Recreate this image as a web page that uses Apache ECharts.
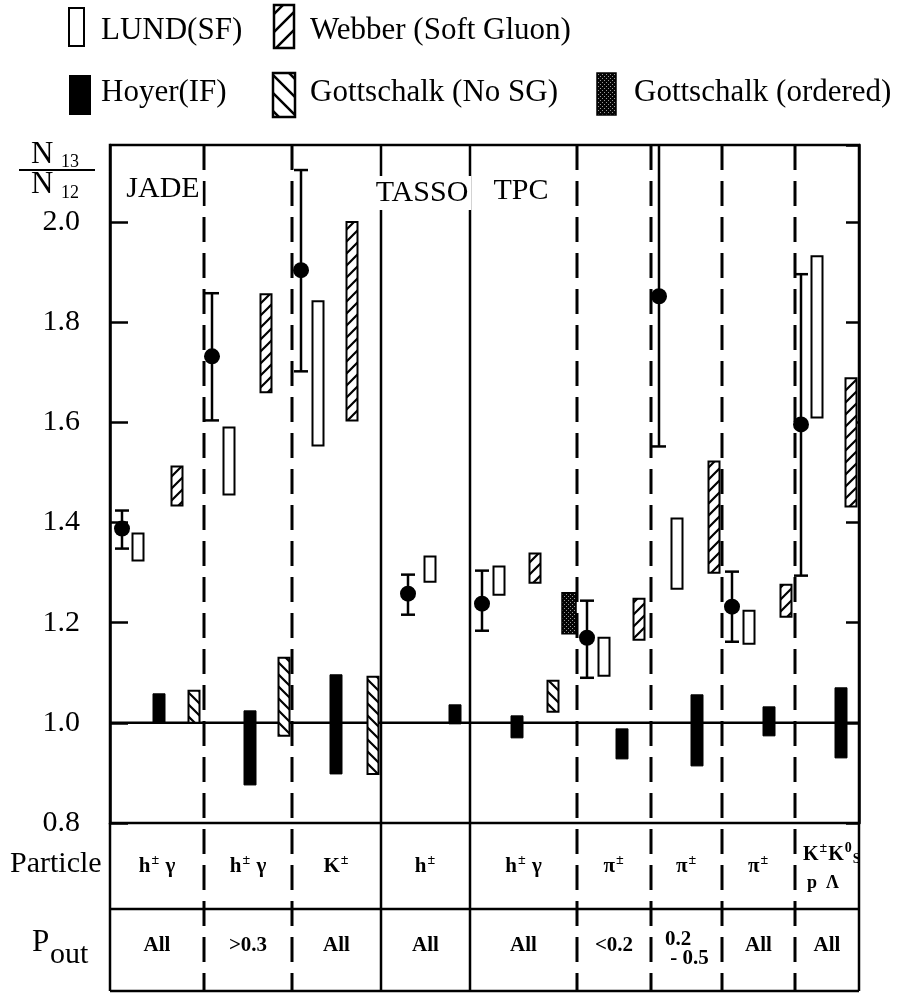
<!DOCTYPE html>
<html>
<head>
<meta charset="utf-8">
<script src="https://cdn.jsdelivr.net/npm/echarts@6/dist/echarts.min.js"></script>
<style>
html,body{margin:0;padding:0;background:#fff;}
#chart{width:903px;height:994px;}
</style>
</head>
<body>
<div id="chart"></div>
<script>
// ===== Data =====
const groups = ['JADE', 'JADE', 'JADE', 'TASSO', 'TPC', 'TPC', 'TPC', 'TPC', 'TPC'];
const particleLabels = ['h^± γ', 'h^± γ', 'K^±', 'h^±', 'h^± γ', 'π^±', 'π^±', 'π^±', 'K^±K^0_S|p  Λ'];
const poutLabels = ['All', '>0.3', 'All', 'All', 'All', '<0.2', '0.2| - 0.5', 'All', 'All'];
const yTickLabels = [0.8, 1.0, 1.2, 1.4, 1.6, 1.8, 2.0];

// measured N13/N12: value, lower, upper
const exptValue = [1.388, 1.732, 1.904, 1.258, 1.238, 1.170, 1.852, 1.232, 1.596];
const exptLow   = [1.348, 1.604, 1.702, 1.216, 1.184, 1.090, 1.552, 1.162, 1.294];
const exptHigh  = [1.424, 1.858, 2.104, 1.296, 1.304, 1.244, 2.170, 1.302, 1.896];
// model predictions [low, high]; null = none
const lund        = [[1.324,1.378],[1.456,1.590],[1.554,1.842],[1.282,1.332],[1.256,1.312],[1.094,1.170],[1.268,1.408],[1.158,1.224],[1.610,1.932]];
const webber      = [[1.434,1.512],[1.660,1.856],[1.604,2.000],null,[1.280,1.338],[1.166,1.248],[1.300,1.522],[1.212,1.276],[1.432,1.688]];
const hoyer       = [[1.000,1.058],[0.876,1.024],[0.898,1.096],[0.998,1.036],[0.970,1.014],[0.928,0.988],[0.914,1.056],[0.974,1.032],[0.930,1.070]];
const gottNoSG    = [[1.000,1.064],[0.974,1.130],[0.898,1.092],null,[1.022,1.084],null,null,null,null];
const gottOrdered = [null,null,null,null,[1.178,1.260],null,null,null,null];

// ===== Layout (horizontal slot positions in x-axis units) =====
const X_MAX = 749, Y_MIN = 0.8, Y_MAX = 2.154;
const groupEdges = [0, 94, 182, 271, 360, 467, 541, 612, 685, 749];
const solidEdges = [3, 4];
const slot = {
  expt:        [12, 102, 191, 298, 372, 477, 549, 622, 691],
  lund:        [28, 119, 208, 320, 389, 494, 567, 639, 707],
  webber:      [67, 156, 242, null, 425, 529, 604, 676, 741],
  hoyer:       [49, 140, 226, 345, 407, 512, 587, 659, 731],
  gottNoSG:    [84, 174, 263, null, 443, null, null, null, null],
  gottOrdered: [null, null, null, null, 459, null, null, null, null]
};

const SERIF = 'Liberation Serif';

function hatch(dir, s, lw) {
  const c = document.createElement('canvas');
  c.width = s; c.height = s;
  const g = c.getContext('2d');
  g.fillStyle = '#fff'; g.fillRect(0, 0, s, s);
  g.strokeStyle = '#000'; g.lineWidth = lw; g.lineCap = 'square';
  g.beginPath();
  for (let k = -1; k <= 1; k++) {
    if (dir > 0) { g.moveTo(k * s - 2, s + 2); g.lineTo(k * s + s + 2, -2); }
    else { g.moveTo(k * s - 2, -2); g.lineTo(k * s + s + 2, s + 2); }
  }
  g.stroke();
  return { image: c, repeat: 'repeat' };
}
function dotted() {
  const c = document.createElement('canvas');
  c.width = 4; c.height = 4;
  const g = c.getContext('2d');
  g.fillStyle = '#050505'; g.fillRect(0, 0, 4, 4);
  g.fillStyle = '#9a9a9a';
  g.fillRect(0, 0, 1, 1); g.fillRect(2, 2, 1, 1);
  return { image: c, repeat: 'repeat' };
}
const patWebber = hatch(1, 12, 2.2);
const patNoSG = hatch(-1, 12, 2.2);
const patOrd = dotted();

const styles = {
  lund:   { fill: '#fff', stroke: '#000', lineWidth: 2 },
  webber: { fill: patWebber, stroke: '#000', lineWidth: 2 },
  hoyer:  { fill: '#000', stroke: '#000', lineWidth: 1 },
  gottNoSG: { fill: patNoSG, stroke: '#000', lineWidth: 2 },
  gottOrdered: { fill: patOrd, stroke: '#000', lineWidth: 1.5 }
};
const widths = { lund: 11, webber: 11, hoyer: 12, gottNoSG: 11, gottOrdered: 14 };

function boxSeries(name, key, ranges) {
  const data = [];
  ranges.forEach((r, i) => { if (r && slot[key][i] != null) data.push([slot[key][i], r[0], r[1]]); });
  const w = widths[key];
  return {
    type: 'custom', name, data, clip: true, z: 3,
    encode: { x: 0, y: [1, 2] },
    renderItem(params, api) {
      const x = api.value(0);
      const pHi = api.coord([x, api.value(2)]);
      const pLo = api.coord([x, api.value(1)]);
      return { type: 'rect', shape: { x: pHi[0] - w / 2, y: pHi[1], width: w, height: pLo[1] - pHi[1] }, style: styles[key] };
    }
  };
}

const exptData = exptValue.map((v, i) => [slot.expt[i], v, exptLow[i], exptHigh[i]]);
const exptSeries = {
  type: 'custom', name: 'Data', data: exptData, clip: true, z: 4,
  encode: { x: 0, y: [1, 2, 3] },
  renderItem(params, api) {
    const x = api.value(0);
    const pv = api.coord([x, api.value(1)]);
    const pl = api.coord([x, api.value(2)]);
    const ph = api.coord([x, api.value(3)]);
    const cw = 7, ls = { stroke: '#000', lineWidth: 2.5 };
    return { type: 'group', children: [
      { type: 'line', shape: { x1: pv[0], y1: ph[1], x2: pv[0], y2: pl[1] }, style: ls },
      { type: 'line', shape: { x1: pv[0] - cw, y1: ph[1], x2: pv[0] + cw, y2: ph[1] }, style: ls },
      { type: 'line', shape: { x1: pv[0] - cw, y1: pl[1], x2: pv[0] + cw, y2: pl[1] }, style: ls },
      { type: 'circle', shape: { cx: pv[0], cy: pv[1], r: 8 }, style: { fill: '#000' } }
    ]};
  }
};

function richStyles(size) {
  return {
    b: { fontFamily: SERIF, fontWeight: 'bold', fontSize: size, lineHeight: 30, fill: '#000' },
    sup: { fontFamily: SERIF, fontWeight: 'bold', fontSize: 14, fill: '#000', padding: [0, 1, 14, 1] },
    sub: { fontFamily: SERIF, fontWeight: 'bold', fontSize: 14, fill: '#000', padding: [8, 0, 0, 0] }
  };
}
function toRich(s) {
  let out = '', buf = '';
  for (let i = 0; i < s.length; i++) {
    const ch = s[i];
    if (ch === '^' || ch === '_') {
      if (buf) { out += '{b|' + buf + '}'; buf = ''; }
      out += '{' + (ch === '^' ? 'sup' : 'sub') + '|' + s[i + 1] + '}';
      i++;
    } else buf += ch;
  }
  if (buf) out += '{b|' + buf + '}';
  return out;
}

const frameSeries = {
  type: 'custom', name: 'frame', clip: false, silent: true, z: 1,
  data: [[0, 1.0]],
  encode: { x: 0, y: 1 },
  renderItem(params, api) {
    const top = api.coord([0, Y_MAX])[1];
    const base = api.coord([0, Y_MIN])[1];
    const rowMid = base + 86, tableBottom = base + 168;
    const xL = api.coord([0, 1])[0], xR = api.coord([X_MAX, 1])[0];
    const ch = [];
    const ln = (x1, y1, x2, y2, w, dash) => ({ type: 'line', shape: { x1, y1, x2, y2 }, style: { stroke: '#000', lineWidth: w, lineDash: dash || null } });
    const y1 = api.coord([0, 1.0])[1];
    ch.push(ln(xL, y1, xR, y1, 2.5));
    for (let k = 1; k < groupEdges.length - 1; k++) {
      const x = api.coord([groupEdges[k], 1])[0];
      const solid = solidEdges.includes(k);
      ch.push(ln(x, top, x, tableBottom, solid ? 2.5 : 3, solid ? null : [25, 11]));
    }
    ch.push(ln(xL, rowMid, xR, rowMid, 2.5));
    ch.push(ln(xL, tableBottom, xR, tableBottom, 2.5));
    ch.push(ln(xL, base, xL, tableBottom, 2.5));
    ch.push(ln(xR, base, xR, tableBottom, 2.5));
    for (let i = 0; i < groups.length; i++) {
      const a = api.coord([groupEdges[i], 1])[0], b = api.coord([groupEdges[i + 1], 1])[0];
      const cx = (a + b) / 2;
      const pl = particleLabels[i].split('|');
      if (pl.length === 1) {
        ch.push({ type: 'text', style: { x: cx, y: base + 44, text: toRich(pl[0]), rich: richStyles(21), align: 'center', verticalAlign: 'middle' } });
      } else {
        ch.push({ type: 'text', style: { x: a + 8, y: base + 32, text: toRich(pl[0]), rich: richStyles(20), align: 'left', verticalAlign: 'middle' } });
        ch.push({ type: 'text', style: { x: a + 12, y: base + 60, text: pl[1], font: 'bold 18px ' + SERIF, fill: '#000', align: 'left', verticalAlign: 'middle' } });
      }
      const po = poutLabels[i].split('|');
      if (po.length === 1) {
        ch.push({ type: 'text', style: { x: cx, y: rowMid + 37, text: po[0], font: 'bold 21px ' + SERIF, fill: '#000', align: 'center', verticalAlign: 'middle' } });
      } else {
        ch.push({ type: 'text', style: { x: a + 14, y: rowMid + 31, text: po[0], font: 'bold 21px ' + SERIF, fill: '#000', align: 'left', verticalAlign: 'middle' } });
        ch.push({ type: 'text', style: { x: a + 14, y: rowMid + 50, text: po[1], font: 'bold 21px ' + SERIF, fill: '#000', align: 'left', verticalAlign: 'middle' } });
      }
    }
    return { type: 'group', children: ch };
  }
};

function gtext(x, y, text, size, extra) {
  return Object.assign({ type: 'text', z: 100, style: { x, y, text, font: size + 'px ' + SERIF, fill: '#000', align: 'left', verticalAlign: 'middle' } }, extra || {});
}
function grect(x, y, w, h, style) {
  return { type: 'rect', z: 100, shape: { x, y, width: w, height: h }, style };
}
function labelBox(x, y, text) {
  return { type: 'text', z: 100, style: { x, y, text, font: '30px ' + SERIF, fill: '#000', align: 'center', verticalAlign: 'middle', backgroundColor: '#fff', padding: [2, 3] } };
}

const chart = echarts.init(document.getElementById('chart'), null, { renderer: 'canvas' });
chart.setOption({
  animation: false,
  backgroundColor: '#fff',
  grid: { left: 110, right: 44, top: 145, bottom: 171, show: true, borderColor: '#000', borderWidth: 2.5, containLabel: false },
  xAxis: { type: 'value', min: 0, max: X_MAX, show: false },
  yAxis: [
    { type: 'value', min: Y_MIN, max: Y_MAX, interval: 0.2, position: 'left',
      axisLine: { show: true, lineStyle: { color: '#000', width: 2.5 } },
      axisTick: { show: true, inside: true, length: 18, lineStyle: { color: '#000', width: 2.5 } },
      axisLabel: { show: true, showMaxLabel: false, margin: 30, color: '#000', fontFamily: SERIF, fontSize: 30,
        formatter: v => yTickLabels.some(t => Math.abs(t - v) < 1e-6) ? v.toFixed(1) : '' },
      splitLine: { show: false } },
    { type: 'value', min: Y_MIN, max: Y_MAX, interval: 0.2, position: 'right',
      axisLine: { show: true, lineStyle: { color: '#000', width: 2.5 } },
      axisTick: { show: true, inside: true, length: 13, lineStyle: { color: '#000', width: 2.5 } },
      axisLabel: { show: false }, splitLine: { show: false } }
  ],
  graphic: [
    // legend row 1
    grect(69, 8, 15, 38, { fill: '#fff', stroke: '#000', lineWidth: 2 }),
    gtext(101, 31, 'LUND(SF)', 31),
    grect(274, 5, 20, 43, { fill: hatch(1, 18, 2.5), stroke: '#000', lineWidth: 2.5 }),
    gtext(310, 31, 'Webber (Soft Gluon)', 31),
    // legend row 2
    grect(69, 75, 22, 40, { fill: '#000' }),
    gtext(101, 93, 'Hoyer(IF)', 31),
    grect(273, 73, 22, 44, { fill: hatch(-1, 18, 2.5), stroke: '#000', lineWidth: 2.5 }),
    gtext(310, 93, 'Gottschalk (No SG)', 31),
    grect(597, 73, 19, 42, { fill: patOrd, stroke: '#000', lineWidth: 1.5 }),
    gtext(634, 93, 'Gottschalk (ordered)', 31),
    // y-axis title N13/N12
    gtext(31, 155, 'N', 31),
    gtext(61, 162, '13', 18),
    { type: 'line', z: 100, shape: { x1: 19, y1: 170, x2: 95, y2: 170 }, style: { stroke: '#000', lineWidth: 2 } },
    gtext(31, 185, 'N', 31),
    gtext(61, 193, '12', 18),
    // experiment labels
    labelBox(163, 189, 'JADE'),
    labelBox(422, 193, 'TASSO'),
    labelBox(521, 191, 'TPC'),
    // table row labels
    gtext(10, 864, 'Particle', 30),
    gtext(32, 943, 'P', 31),
    gtext(50, 955, 'out', 30)
  ],
  series: [
    frameSeries,
    boxSeries('LUND(SF)', 'lund', lund),
    boxSeries('Webber (Soft Gluon)', 'webber', webber),
    boxSeries('Hoyer(IF)', 'hoyer', hoyer),
    boxSeries('Gottschalk (No SG)', 'gottNoSG', gottNoSG),
    boxSeries('Gottschalk (ordered)', 'gottOrdered', gottOrdered),
    exptSeries
  ]
});
</script>
</body>
</html>
